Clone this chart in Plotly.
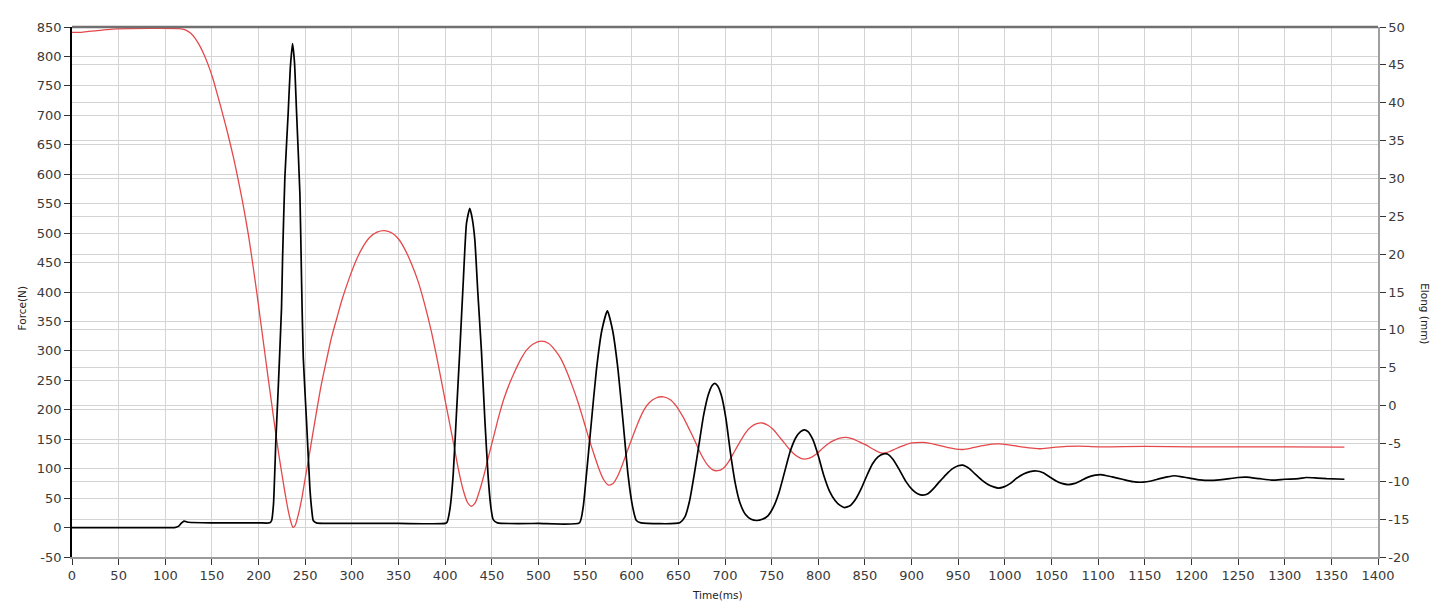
import plotly.graph_objects as go

# ---------------- data ----------------
time_force = [0, 50, 100, 110, 114, 117, 120, 125, 150, 200, 212, 214, 216, 218.6, 221, 224.6, 225.7, 228.2,
              231.8, 234, 236.4, 238.5, 240.7, 244.3, 246.1, 247.9, 251.5, 255, 257, 258.6, 262, 300, 350,
              400, 402, 405, 408.6, 412, 415.7, 419.5, 422.9, 426.4, 429, 431.8, 435, 438.9, 442.5, 446,
              449, 451.4, 456, 500, 544, 548, 551.4, 556.5, 562.1, 568, 573.9, 579.5, 585.4, 591, 596.1,
              601, 605, 610, 651.5, 657, 662, 667, 672, 677, 682, 686, 689, 692, 696, 701, 706, 711, 716,
              722, 728, 734, 740, 746, 752, 758, 764, 770, 776, 781, 785, 789, 794, 800, 806, 812, 818,
              823, 828, 834, 840, 846, 852, 858, 864, 870, 874, 880, 887, 894, 901, 907, 912, 918, 924,
              930, 937, 944, 950, 955, 962, 968, 975, 982, 988, 993, 999, 1006, 1012, 1020, 1027, 1034,
              1041, 1048, 1055, 1061, 1068, 1075, 1082, 1090, 1097, 1103, 1115, 1126, 1137, 1148, 1157,
              1166, 1174, 1182, 1190, 1198, 1209, 1220, 1230, 1241, 1250, 1259, 1273, 1287, 1300, 1315,
              1323, 1335, 1345, 1364]
force = [0, 0, 0, 0, 2, 7, 11, 9, 8, 8, 8, 12, 40, 150, 234, 373, 456, 595,
         706, 780, 822, 790, 706, 567, 417, 289, 178, 67, 30, 12, 8, 7, 7,
         7, 9, 30, 89, 190, 300, 420, 517, 542, 525, 489, 400, 300, 185, 89,
         35, 14, 8, 7, 8, 35, 89, 175, 267, 335, 368, 335, 267, 175, 89,
         35, 12, 8, 8, 18, 45, 90, 140, 190, 225, 241, 245, 241, 225, 185, 125, 75, 42,
         22, 14, 12, 14, 20, 35, 60, 95, 130, 153, 163, 166, 163, 150, 122, 88, 62, 46,
         38, 34, 37, 48, 66, 88, 108, 120, 125, 125, 116, 98, 78, 64, 57, 55, 58, 67,
         78, 90, 100, 105, 106, 100, 91, 81, 73, 69, 67, 69, 75, 83, 91, 95, 96,
         93, 86, 79, 75, 73, 75, 80, 86, 89, 90, 86, 82, 78, 77, 79,
         83, 86, 88, 86, 84, 81, 80, 81, 83, 85, 85.5, 83, 80.5, 82, 83,
         85, 84, 83, 82]

time_elong = [0, 10, 16, 25, 37, 48, 117, 122, 127, 132, 137, 141, 146, 151, 156, 162, 167, 173, 178, 183,
              189, 194, 198, 202, 206, 210, 214, 218, 222, 226, 229, 232, 235, 237, 239, 242, 246,
              250, 254, 258, 262, 267, 273, 278, 284, 290, 298, 305, 312, 319, 327, 335, 343, 350, 357,
              364, 371, 378, 385, 391, 397, 403, 409, 414, 419, 424, 428, 432, 437, 442, 447, 453, 458,
              463, 469, 475, 481, 487, 494, 503, 511, 518, 524, 530, 536, 542, 548, 554, 560, 565, 570,
              575, 580, 585, 590, 595, 601, 607, 613, 619, 626, 634, 641, 648, 655, 662, 669, 675, 681,
              687, 692, 698, 704, 710, 716, 722, 728, 734, 740, 746, 752, 758, 764, 770, 776, 782, 787,
              793, 799, 805, 811, 817, 823, 830, 837, 844, 851, 858, 864, 869, 876, 883, 891, 898, 905,
              912, 920, 927, 934, 941, 948, 955, 963, 970, 978, 986, 994, 1002, 1010, 1018, 1026, 1037,
              1050, 1066, 1080, 1100, 1150, 1200, 1250, 1300, 1364]
elong = [49.3, 49.3, 49.4, 49.5, 49.65, 49.75, 49.75, 49.6, 49.2, 48.5, 47.5, 46.5, 45.0, 43.2, 41.0, 38.3,
         35.9, 32.8, 29.9, 26.8, 22.6, 18.5, 15.0, 11.3, 7.6, 3.9, 0.3, -3.3, -6.7, -9.8, -12.0,
         -14.0, -15.5, -16.1, -15.9, -14.7, -12.5, -9.6, -6.8, -3.8, -0.9, 2.6, 6.1, 8.9, 11.6, 14.2,
         17.1, 19.3, 21.0, 22.2, 22.9, 23.1, 22.8, 22.0, 20.6, 18.7, 16.4, 13.4, 9.9, 6.4, 2.6, -1.2,
         -5.0, -8.3, -11.0, -12.8, -13.3, -12.9, -11.2, -9.0, -6.5, -3.6, -1.2, 0.9, 2.9, 4.6, 6.1,
         7.3, 8.1, 8.5, 8.2, 7.3, 6.2, 4.6, 2.7, 0.6, -1.8, -4.3, -6.6, -8.4, -9.8, -10.5, -10.3,
         -9.3, -7.8, -6.1, -4.1, -2.2, -0.6, 0.4, 1.0, 1.15, 0.8, -0.1, -1.5, -3.2, -5.0, -6.6, -7.8,
         -8.5, -8.6, -8.3, -7.4, -6.1, -4.8, -3.6, -2.8, -2.4, -2.3, -2.6, -3.2, -4.1, -5.0, -5.9,
         -6.6, -7.0, -7.05, -6.8, -6.3, -5.6, -5.0, -4.6, -4.3, -4.2, -4.4, -4.8, -5.2, -5.7, -6.1,
         -6.3, -6.1, -5.7, -5.3, -5.0, -4.9, -4.86, -5.0, -5.2, -5.4, -5.6, -5.75, -5.8, -5.65, -5.45,
         -5.25, -5.1, -5.07, -5.15, -5.3, -5.45, -5.6, -5.7, -5.55, -5.4, -5.35, -5.45, -5.4, -5.45,
         -5.45, -5.45, -5.5]

x_ticks = list(range(0, 1401, 50))
force_ticks = list(range(-50, 851, 50))
elong_ticks = list(range(-20, 51, 5))

# ---------------- figure ----------------
tick_font = dict(family="DejaVu Sans", size=13, color="#3a3a3a")
title_font = dict(family="DejaVu Sans", size=10.5, color="#222")
grid_color = "#d4d4d4"

fig = go.Figure()
fig.add_trace(go.Scatter(x=time_elong, y=elong, yaxis="y", mode="lines", name="Elong",
                         line=dict(color="#e5484a", width=1.3, shape="spline", smoothing=0.8)))
fig.add_trace(go.Scatter(x=time_force, y=force, yaxis="y2", mode="lines", name="Force",
                         line=dict(color="#000000", width=1.7, shape="spline", smoothing=0.5)))

# the page body has an 8px margin, so the figure is sized/offset to compensate
fig.update_layout(
    width=1437, height=600,
    margin=dict(l=64, r=67, t=16, b=51),
    paper_bgcolor="white", plot_bgcolor="white",
    showlegend=False,
    xaxis=dict(range=[0, 1400], tickvals=x_ticks, ticktext=[str(v) for v in x_ticks],
               showgrid=True, gridcolor=grid_color, gridwidth=1.4, zeroline=False,
               showline=True, linecolor="#9a9a9a", linewidth=1.5,
               ticks="outside", ticklen=6, tickcolor="#333", tickfont=tick_font),
    yaxis=dict(range=[-20, 50], tickvals=elong_ticks, ticktext=[str(v) for v in elong_ticks],
               side="right", showgrid=True, gridcolor=grid_color, gridwidth=1.4, zeroline=False,
               showline=True, linecolor="#a0a0a0", linewidth=1.5,
               ticks="outside", ticklen=6, tickcolor="#333", tickfont=tick_font),
    yaxis2=dict(range=[-50, 850], tickvals=force_ticks, ticktext=[str(v) for v in force_ticks],
                side="left", overlaying="y", showgrid=True, gridcolor=grid_color, gridwidth=1.4,
                zeroline=False, showline=True, linecolor="#000000", linewidth=1.8,
                ticks="outside", ticklen=6, tickcolor="#333", tickfont=tick_font),
    shapes=[dict(type="line", xref="paper", yref="paper", x0=0, x1=1, y0=1, y1=1,
                 line=dict(color="#707070", width=2.5))],
    annotations=[
        dict(text="Force(N)", xref="paper", yref="paper", x=-0.0383, y=0.469, showarrow=False,
             textangle=-90, font=title_font, xanchor="center", yanchor="middle"),
        dict(text="Elong (mm)", xref="paper", yref="paper", x=1.036, y=0.460, showarrow=False,
             textangle=90, font=title_font, xanchor="center", yanchor="middle"),
        dict(text="Time(ms)", xref="paper", yref="paper", x=0.494, y=-0.071, showarrow=False,
             font=title_font, xanchor="center", yanchor="middle"),
    ],
)

fig.write_html("out.html")
